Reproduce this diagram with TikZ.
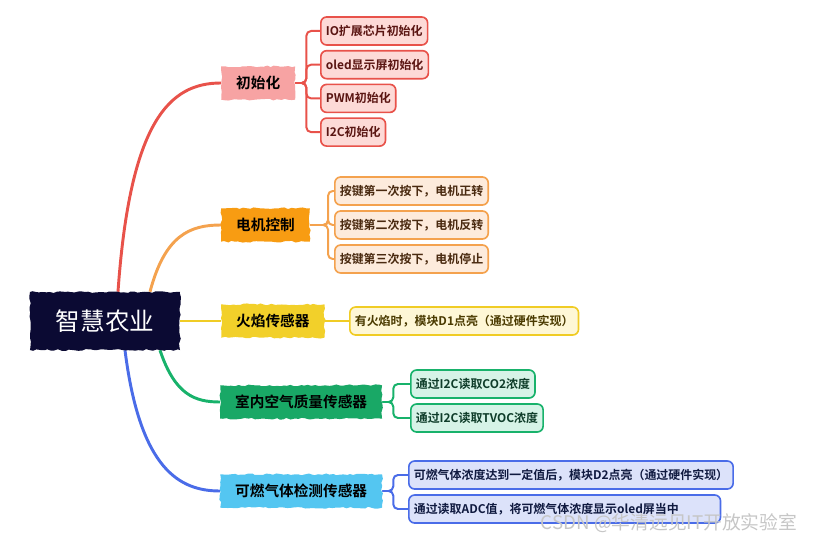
\documentclass[tikz,border=0pt]{standalone}
\usepackage{fontspec}
\setmainfont{Noto Sans CJK SC}[BoldFont={Noto Sans CJK SC Bold}]
\usetikzlibrary{calc,positioning,backgrounds,decorations.pathmorphing}

\definecolor{rootfill}{HTML}{0B0A33}
\definecolor{redline}{HTML}{E8524A}
\definecolor{redfill}{HTML}{F7A3A3}
\definecolor{redleaf}{HTML}{FDDAD7}
\definecolor{redtext}{HTML}{5A1512}
\definecolor{orangeline}{HTML}{F4A24E}
\definecolor{orangefill}{HTML}{F89C12}
\definecolor{orangeleaf}{HTML}{FDEBDC}
\definecolor{orangetext}{HTML}{4A2A10}
\definecolor{yellowline}{HTML}{F0CC25}
\definecolor{yellowfill}{HTML}{F2D02A}
\definecolor{yellowleaf}{HTML}{FEF7D6}
\definecolor{yellowtext}{HTML}{4A3A00}
\definecolor{greenline}{HTML}{18B26B}
\definecolor{greenfill}{HTML}{19A866}
\definecolor{greenleaf}{HTML}{D6F3E7}
\definecolor{greentext}{HTML}{0F3D2A}
\definecolor{blueline}{HTML}{4A6CE8}
\definecolor{bluefill}{HTML}{54C6F1}
\definecolor{blueleaf}{HTML}{DCE2FA}
\definecolor{bluetext}{HTML}{101A40}

\begin{document}
\begin{tikzpicture}[x=0.03cm,y=-0.03cm,
  branch/.style={decorate,
    decoration={random steps,segment length=3pt,amplitude=0.8pt},
    font=\bfseries\fontsize{12.5}{14}\selectfont,
    inner xsep=0.45cm,minimum height=1cm,anchor=west},
  leaf/.style={draw,rounded corners=5pt,line width=1.4pt,
    font=\bfseries\fontsize{10.2}{12}\selectfont,
    inner xsep=0.15cm,minimum height=0.84cm,anchor=west},
  link/.style={line width=2.5pt},
  bus/.style={line width=1.7pt,rounded corners=4pt}]

  \useasboundingbox (0,0) rectangle (817,544);

  % centre
  \node[branch,anchor=center,fill=rootfill,text=white,
    font=\fontsize{21}{24}\selectfont,minimum width=4.5cm,minimum height=1.74cm]
    (root) at (105,321) {智慧农业};

  % main topics
  \node[branch,fill=redfill] (init) at (221,83) {初始化};
  \node[branch,fill=orangefill] (motor) at (221,225) {电机控制};
  \node[branch,fill=yellowfill] (fire) at (221,321) {火焰传感器};
  \node[branch,fill=greenfill] (air) at (220,402) {室内空气质量传感器};
  \node[branch,fill=bluefill] (gas) at (220,491) {可燃气体检测传感器};

  % sub topics
  \foreach \t [count=\i] in {IO扩展芯片初始化,oled显示屏初始化,PWM初始化,I2C初始化}{
    \node[leaf,draw=redline,fill=redleaf,text=redtext] (init\i) at (320,{31+33.7*(\i-1)}) {\t};
  }
  \foreach \t [count=\i] in {按键第一次按下，电机正转,按键第二次按下，电机反转,按键第三次按下，电机停止}{
    \node[leaf,draw=orangeline,fill=orangeleaf,text=orangetext] (motor\i) at (334,{191+34*(\i-1)}) {\t};
  }
  \node[leaf,draw=yellowline,fill=yellowleaf,text=yellowtext] (fire1) at (349,321) {有火焰时，模块D1点亮（通过硬件实现）};
  \foreach \t [count=\i] in {通过I2C读取CO2浓度,通过I2C读取TVOC浓度}{
    \node[leaf,draw=greenline,fill=greenleaf,text=greentext] (air\i) at (410,{384+34*(\i-1)}) {\t};
  }
  \node[leaf,draw=blueline,fill=blueleaf,text=bluetext] (gas1) at (408,475) {可燃气体浓度达到一定值后，模块D2点亮（通过硬件实现）};
  \node[leaf,draw=blueline,fill=blueleaf,text=bluetext,minimum width=9.35cm,align=left,
    text width=9.05cm] (gas2) at (408,509) {通过读取ADC值，将可燃气体浓度显示oled屏当中};

  % watermark
  \node[text=gray!45,font=\fontsize{16}{18}\selectfont] (mark) at (669,523) {CSDN @华清远见IT开放实验室};

  \coordinate (r1) at ($(root.north)+(13,0)$);
  \coordinate (r2) at ($(root.north)+(45,0)$);
  \coordinate (r4) at ($(root.south)+(55,0)$);
  \coordinate (r5) at ($(root.south)+(20,0)$);

  \begin{scope}[on background layer]
  \draw[link,redline] (r1) .. controls (130,120) and (170,83) .. (init.west);
  \draw[link,orangeline] (r2) .. controls (165,235) and (190,225) .. (motor.west);
  \draw[link,yellowline] (root.east) -- (fire.west);
  \draw[link,greenline] (r4) .. controls (175,395) and (195,402) .. (air.west);
  \draw[link,blueline] (r5) .. controls (140,470) and (180,491) .. (gas.west);

  \foreach \i in {1,...,4}{
  \draw[bus,redline] (init.east) -- ++(11,0) |- (init\i.west);}
  \foreach \i in {1,...,3}{
  \draw[bus,orangeline] (motor.east) -- ++(18,0) |- (motor\i.west);}
  \draw[bus,yellowline] (fire.east) -- (fire1.west);
  \foreach \i in {1,2}{
  \draw[bus,greenline] (air.east) -- ++(11,0) |- (air\i.west);}
  \foreach \i in {1,2}{
  \draw[bus,blueline] (gas.east) -- ++(11,0) |- (gas\i.west);}
  \end{scope}

\end{tikzpicture}
\end{document}
